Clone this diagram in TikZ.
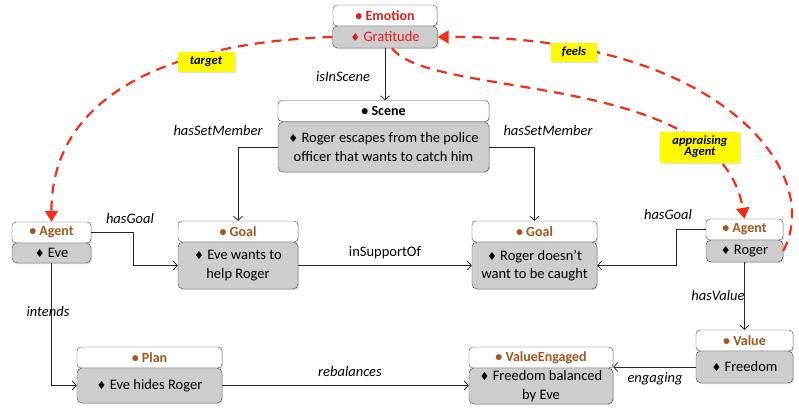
\documentclass[tikz,border=0pt]{standalone}
\usepackage{fontspec}
\setmainfont{Carlito}
\newfontfamily\symfont{DejaVu Sans}
\usetikzlibrary{arrows.meta,shadows}

\definecolor{hdbrown}{RGB}{165,85,30}
\definecolor{emored}{RGB}{228,30,30}
\definecolor{boxgray}{RGB}{205,205,205}
\definecolor{rimgray}{RGB}{70,70,70}
\definecolor{dashred}{RGB}{245,45,20}
\definecolor{tagyellow}{RGB}{255,250,0}

\newcommand{\cls}[1]{\textbullet\ #1}
\newcommand{\inst}{{\symfont\fontsize{11}{11}\selectfont ♦}\ }

\tikzset{
  head/.style={draw=rimgray, fill=white, rounded corners=4pt, inner sep=0pt,
    minimum height=21pt, text=hdbrown, font=\bfseries\fontsize{14}{15}\selectfont,
    drop shadow={shadow xshift=1.2pt, shadow yshift=-1.2pt, opacity=0.3}},
  body/.style={draw=rimgray, fill=boxgray, rounded corners=5pt, inner sep=0pt,
    align=center, font=\fontsize{14.5}{18.3}\selectfont,
    drop shadow={shadow xshift=1.2pt, shadow yshift=-1.2pt, opacity=0.3}},
  rel/.style={font=\itshape\fontsize{14.5}{16}\selectfont},
  link/.style={draw=black!85, line width=0.8pt, -{Straight Barb[length=4pt,width=9pt]}},
  flow/.style={draw=dashred, line width=2.2pt, dash pattern=on 10pt off 7pt,
    -{Triangle[length=11pt,width=13pt]}},
  tag/.style={fill=tagyellow, inner sep=0pt, align=center,
    font=\bfseries\itshape\fontsize{12.5}{13}\selectfont,
    drop shadow={shadow xshift=1pt, shadow yshift=-1pt, opacity=0.25}}
}

\begin{document}
\begin{tikzpicture}[x=1pt,y=-1pt]
\useasboundingbox (0,0) rectangle (799,407);

% emotion
\node[head, text=emored, minimum width=104pt] (emoH) at (385,15.5) {\cls{Emotion}};
\node[body, text=emored, minimum width=105pt, minimum height=22pt] (emoB) at (385,37) {\inst Gratitude};

% scene
\node[head, minimum width=211pt, text=black] (sceneH) at (383.5,111) {\cls{Scene}};
\node[body, minimum width=211pt, minimum height=50pt] (sceneB) at (383.5,147)
  {\inst Roger escapes from the police\\officer that wants to catch him};

% agents
\node[head, minimum width=79pt] (agEveH) at (51.5,232.5) {\cls{Agent}};
\node[body, minimum width=79pt, minimum height=20pt] (agEveB) at (51.5,253) {\inst Eve};
\node[head, minimum width=77pt] (agRogH) at (744.5,229.5) {\cls{Agent}};
\node[body, minimum width=77pt, minimum height=22pt] (agRogB) at (744.5,251) {\inst Roger};

% goals
\node[head, minimum width=120pt] (goalEveH) at (238,231.5) {\cls{Goal}};
\node[body, minimum width=120pt, minimum height=47pt] (goalEveB) at (238,265.5)
  {\inst Eve wants to\\help Roger};
\node[head, minimum width=125pt] (goalRogH) at (534.5,231.5) {\cls{Goal}};
\node[body, minimum width=125pt, minimum height=47pt] (goalRogB) at (534.5,265.5)
  {\inst Roger doesn’t\\want to be caught};

% plan, value
\node[head, minimum width=145pt] (planH) at (149.5,357.5) {\cls{Plan}};
\node[body, minimum width=145pt, minimum height=35pt] (planB) at (149.5,385.5) {\inst Eve hides Roger};
\node[head, minimum width=144pt] (veH) at (541,357.5) {\cls{ValueEngaged}};
\node[body, minimum width=144pt, minimum height=36pt] (veB) at (541,386)
  {\inst Freedom balanced\\by Eve};
\node[head, minimum width=97pt] (valH) at (744.5,340.5) {\cls{Value}};
\node[body, minimum width=97pt, minimum height=32pt] (valB) at (744.5,367) {\inst Freedom};

% relations
\draw[link] (emoB.south) -- (emoB.south |- sceneH.north);
\node[rel] (lScene) at (343,77) {isInScene};
\draw[link] (sceneB.west) -| (goalEveH.north);
\node[rel] (lSetL) at (218,131) {hasSetMember};
\draw[link] (sceneB.east) -| (goalRogH.north);
\node[rel] (lSetR) at (548,131) {hasSetMember};
\draw[link] (agEveH.east) -- ++(42,0) |- (goalEveB.west);
\node[rel] (lGoalL) at (130,219) {hasGoal};
\draw[link] (goalEveB.east) -- (goalRogB.west);
\node[font=\fontsize{14.5}{16}\selectfont] (lSupp) at (385,253) {inSupportOf};
\draw[link] (agRogH.west) -- ++(-29,0) |- (goalRogB.east);
\node[rel] (lGoalR) at (668,215) {hasGoal};
\draw[link] (agEveB.south) |- (planB.west);
\node[rel] (lInt) at (48,312) {intends};
\draw[link] (planB.east) -- (planB.east -| veB.west);
\node[rel] (lReb) at (350,372) {rebalances};
\draw[link] (agRogB.south) -- (valH.north);
\node[rel] (lVal) at (718,296) {hasValue};
\draw[link] (valB.west) -- (valB.west -| veB.east);
\node[rel] (lEng) at (655,379) {engaging};

% appraisal
\draw[flow] (emoB.west) .. controls (180,42) and (51,90) .. (agEveH.north);
\node[tag, minimum width=57pt, minimum height=20pt] (tTarget) at (206,62) {target};
\draw[flow] (agRogB.east) .. controls (825,172) and (720,35) .. (emoB.east);
\node[tag, minimum width=46pt, minimum height=19pt] (tFeels) at (574,52) {feels};
\draw[flow] ([xshift=7pt]emoB.south) .. controls (430,100) and (720,70) .. (agRogH.north);
\node[tag, minimum width=80pt, minimum height=31pt] (tAppr) at (700,147) {appraising\\[-2pt]Agent};
\end{tikzpicture}
\end{document}
